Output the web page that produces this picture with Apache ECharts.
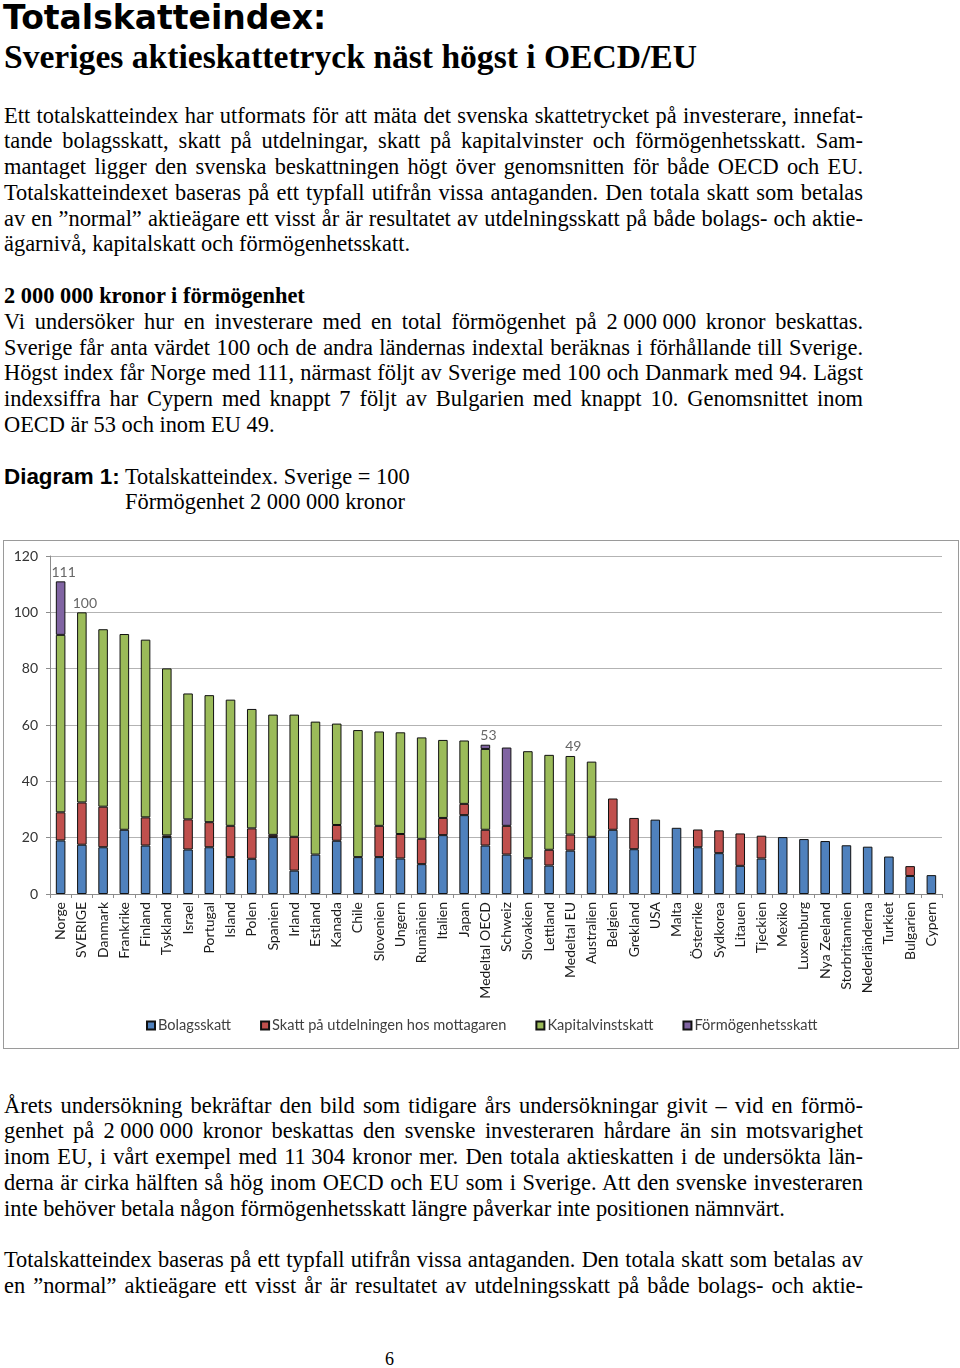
<!DOCTYPE html>
<html>
<head>
<meta charset="utf-8">
<script src="https://cdn.jsdelivr.net/npm/echarts@6/dist/echarts.min.js"></script>
<style>
  html, body { margin:0; padding:0; background:#fff; }
  body { width:960px; height:1368px; position:relative; overflow:hidden; color:#000; }
  .t1 { position:absolute; left:3px; top:1px; font-family:"DejaVu Sans"; font-weight:bold; font-size:33px; line-height:33px; white-space:nowrap; }
  .t2 { position:absolute; left:4px; top:40px; font-family:"Liberation Serif"; font-weight:bold; font-size:33.6px; line-height:33.6px; white-space:nowrap; }
  .txt { position:absolute; left:4px; width:859px; font-family:"Liberation Serif"; font-size:22.4px; line-height:25.8px; }
  .txt div { height:25.8px; white-space:nowrap; }
  .j { text-align:justify; text-align-last:justify; }
  .l { text-align:left; }
  .b { font-weight:bold; }
  .nb { display:inline-block; }
  .ar { font-family:"Liberation Sans"; font-weight:bold; }
  #chart { position:absolute; left:3px; top:540px; width:954px; height:507px; border:1px solid #9a9a9a; }
  .pg { position:absolute; left:385px; top:1349px; font-family:"Liberation Serif"; font-size:18px; }
</style>
</head>
<body>
<div class="t1">Totalskatteindex:</div>
<div class="t2">Sveriges aktieskattetryck näst högst i OECD/EU</div>

<div class="txt" style="top:102.5px">
  <div class="j">Ett totalskatteindex har utformats för att mäta det svenska skattetrycket på investerare, innefat-</div>
  <div class="j">tande bolagsskatt, skatt på utdelningar, skatt på kapitalvinster och förmögenhetsskatt. Sam-</div>
  <div class="j">mantaget ligger den svenska beskattningen högt över genomsnitten för både OECD och EU.</div>
  <div class="j">Totalskatteindexet baseras på ett typfall utifrån vissa antaganden. Den totala skatt som betalas</div>
  <div class="j">av en ”normal” aktieägare ett visst år är resultatet av utdelningsskatt på både bolags- och aktie-</div>
  <div class="l">ägarnivå, kapitalskatt och förmögenhetsskatt.</div>
  <div class="l"></div>
  <div class="l b">2 000 000 kronor i förmögenhet</div>
  <div class="j">Vi undersöker hur en investerare med en total förmögenhet på <span class="nb">2 000 000</span> kronor beskattas.</div>
  <div class="j">Sverige får anta värdet 100 och de andra ländernas indextal beräknas i förhållande till Sverige.</div>
  <div class="j">Högst index får Norge med 111, närmast följt av Sverige med 100 och Danmark med 94. Lägst</div>
  <div class="j">indexsiffra har Cypern med knappt 7 följt av Bulgarien med knappt 10. Genomsnittet inom</div>
  <div class="l">OECD är 53 och inom EU 49.</div>
  <div class="l"></div>
  <div class="l"><span class="ar">Diagram 1:</span> Totalskatteindex. Sverige = 100</div>
  <div class="l" style="padding-left:121px">Förmögenhet 2 000 000 kronor</div>
</div>

<div id="chart"></div>

<div class="txt" style="top:1092.5px">
  <div class="j">Årets undersökning bekräftar den bild som tidigare års undersökningar givit – vid en förmö-</div>
  <div class="j">genhet på <span class="nb">2 000 000</span> kronor beskattas den svenske investeraren hårdare än sin motsvarighet</div>
  <div class="j">inom EU, i vårt exempel med <span class="nb">11 304</span> kronor mer. Den totala aktieskatten i de undersökta län-</div>
  <div class="j">derna är cirka hälften så hög inom OECD och EU som i Sverige. Att den svenske investeraren</div>
  <div class="l">inte behöver betala någon förmögenhetsskatt längre påverkar inte positionen nämnvärt.</div>
  <div class="l"></div>
  <div class="j">Totalskatteindex baseras på ett typfall utifrån vissa antaganden. Den totala skatt som betalas av</div>
  <div class="j">en ”normal” aktieägare ett visst år är resultatet av utdelningsskatt på både bolags- och aktie-</div>
</div>

<div class="pg">6</div>

<script>
const categories = ["Norge","SVERIGE","Danmark","Frankrike","Finland","Tyskland","Israel","Portugal","Island","Polen","Spanien","Irland","Estland","Kanada","Chile","Slovenien","Ungern","Rumänien","Italien","Japan","Medeltal OECD","Schweiz","Slovakien","Lettland","Medeltal EU","Australien","Belgien","Grekland","USA","Malta","Österrike","Sydkorea","Litauen","Tjeckien","Mexiko","Luxemburg","Nya Zeeland","Storbritannien","Nederländerna","Turkiet","Bulgarien","Cypern"];

const bolagsskatt = [19,17.5,16.6,22.8,17.2,20.2,15.8,16.6,13.1,12.5,20.2,8.3,14.0,18.9,13.1,13.1,12.6,10.6,20.9,28.0,17.2,14.0,12.7,10.1,15.4,20.3,22.8,15.9,26.4,23.5,16.6,14.5,10.0,12.6,20.2,19.5,18.8,17.3,16.8,13.3,6.4,6.7];

const utdelningsskatt = [10,15,14.4,null,10,0.6,10.7,8.9,11.1,10.8,0.8,12,null,5.6,null,11.1,8.7,9,6.1,4,5.6,10.2,null,5.6,5.7,null,11.1,11.1,null,null,6.3,8.1,11.5,8.1,null,null,null,null,null,null,3.5,null];

const kapitalvinstskatt = [63,67.5,63,69.5,63.1,59.3,44.7,45.1,44.8,42.4,42.7,43.4,47.2,36,45.1,33.5,36.1,36,27.7,22.5,28.7,null,38,33.7,27.9,26.7,null,null,null,null,null,null,null,null,null,null,null,null,null,null,null,null];

const formogenhetsskatt = [19,null,null,null,null,null,null,null,null,null,null,null,null,null,null,null,null,null,null,null,1.5,27.8,null,null,null,null,null,null,null,null,null,null,null,null,null,null,null,null,null,null,null,null];

const totalLabels = [111,100,null,null,null,null,null,null,null,null,null,null,null,null,null,null,null,null,null,null,53,null,null,null,49,null,null,null,null,null,null,null,null,null,null,null,null,null,null,null,null,null];

const yTicks = [0,20,40,60,80,100,120];

const seriesNames = ["Bolagsskatt","Skatt på utdelningen hos mottagaren","Kapitalvinstskatt","Förmögenhetsskatt"];
const colors = ["#4f81bd","#c0504d","#9bbb59","#8064a2"];
const dataSets = [bolagsskatt, utdelningsskatt, kapitalvinstskatt, formogenhetsskatt];

const stackTops = categories.map((c,i) => dataSets.reduce((s,a) => s + (a[i] || 0), 0));
const labelPoints = totalLabels.map((v,i) => v == null ? null : stackTops[i]);

const chart = echarts.init(document.getElementById('chart'), null, {renderer:'canvas'});
const font = 'Lato';
chart.setOption({
  animation: false,
  textStyle: { fontFamily: font },
  grid: { left: 46, right: 16, top: 15, bottom: 154 },
  legend: {
    data: seriesNames,
    left: 137, top: 472,
    itemWidth: 8, itemHeight: 8, itemGap: 29,
    icon: 'rect',
    textStyle: { fontFamily: font, fontSize: 14.6, color: '#404040', padding: [0,0,0,-2] }
  },
  xAxis: {
    type: 'category',
    data: categories,
    axisLine: { lineStyle: { color: '#8c8c8c' } },
    axisTick: { show: true, length: 4, lineStyle: { color: '#8c8c8c' } },
    axisLabel: { interval: 0, rotate: 90, fontFamily: font, fontSize: 14, color: '#1a1a1a', margin: 8 }
  },
  yAxis: {
    type: 'value',
    min: yTicks[0], max: yTicks[yTicks.length-1], interval: 20,
    axisLine: { show: true, lineStyle: { color: '#8c8c8c' } },
    axisTick: { show: true, length: 4, lineStyle: { color: '#8c8c8c' } },
    axisLabel: { fontFamily: font, fontSize: 14, color: '#333', margin: 12 },
    splitLine: { lineStyle: { color: '#b3b3b3' } }
  },
  series: dataSets.map((d, k) => ({
    name: seriesNames[k],
    type: 'bar',
    stack: 'total',
    data: d,
    barWidth: '45%',
    itemStyle: { color: colors[k], borderColor: '#111', borderWidth: 1 }
  })).concat([{
    type: 'scatter',
    data: labelPoints,
    symbolSize: 0,
    silent: true,
    label: {
      show: true, position: 'top', distance: 2, offset: [3, 0],
      fontFamily: font, fontSize: 14, color: '#404040',
      formatter: p => totalLabels[p.dataIndex]
    }
  }])
});
</script>
</body>
</html>
